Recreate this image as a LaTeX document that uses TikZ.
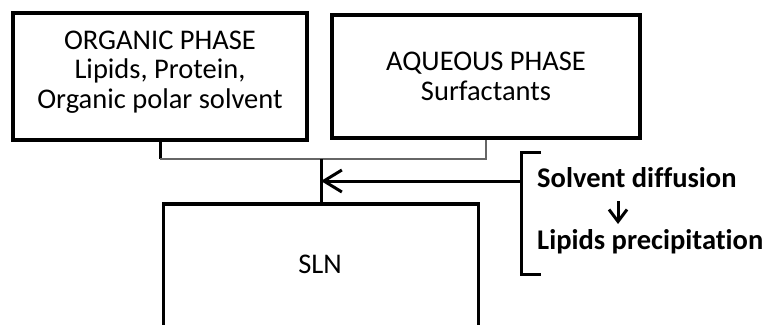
\documentclass[tikz,border=0pt]{standalone}
\usepackage{fontspec}
\setmainfont{Carlito}[Ligatures=NoCommon]
\usepackage{tikz}
\usetikzlibrary{arrows.meta, positioning}

\tikzset{
    phasebox/.style={draw, line width=3.5pt, inner sep=0pt, align=center},
    linkline/.style={line width=3pt},
    tipline/.style={line width=3pt, -{Straight Barb[length=18pt, width=22pt]}},
    steptext/.style={anchor=west, inner sep=0pt, font=\bfseries\fontsize{28.5}{28.5}\selectfont}
}

\begin{document}
\begin{tikzpicture}[x=1pt, y=-1pt, font=\fontsize{28.5}{29.5}\selectfont]
    \useasboundingbox (0,0) rectangle (762,324);
    \clip (0,0) rectangle (762,324);

    % Phase organique
    \node[phasebox, minimum width=294pt, minimum height=127pt] (org) at (160,76.5) {};
    \node[align=center, inner sep=0pt] (orgtxt) at (160,72) {ORGANIC PHASE\\Lipids, Protein,\\Organic polar solvent};

    % Phase aqueuse
    \node[phasebox, minimum width=308pt, minimum height=123pt] (aq) at (486,76.5) {AQUEOUS PHASE\\Surfactants};

    % SLN
    \node[phasebox, minimum width=315pt, minimum height=160pt, anchor=north] (sln) at (321,202) {};
    \node[inner sep=0pt] (slntxt) at (320,264) {SLN};

    % Jonction des deux phases
    \coordinate (mix) at (sln.north |- 0,159);
    \coordinate (orgfoot) at (org.south |- mix);
    \coordinate (aqfoot) at (aq.south |- mix);
    \draw[linkline] (org.south) -- (orgfoot);
    \draw[line width=2pt, black!60] (orgfoot) -- (aqfoot) -- (aq.south);
    \draw[linkline] (mix) -- (sln.north);

    % Etapes
    \node[steptext] (sd) at (537,178) {Solvent diffusion};
    \node[steptext] (lp) at (537,242) {Lipids precipitation};
    \draw[linkline] (541,152) -- (521,152) -- (521,274) -- (541,274);
    \coordinate (brk) at (521,181);
    \coordinate (hit) at (mix |- brk);
    \draw[tipline] (brk) -- (hit);

    % Fleche entre les etapes
    \coordinate (dtop) at (618,201);
    \coordinate (dbot) at (618,224);
    \draw[line width=3pt, -{Straight Barb[length=12pt, width=18pt]}] (dtop) -- (dbot);
\end{tikzpicture}
\end{document}
